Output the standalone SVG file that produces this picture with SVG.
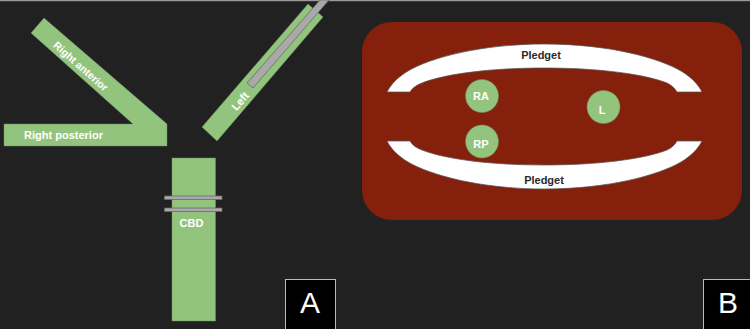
<svg xmlns="http://www.w3.org/2000/svg" width="750" height="329" viewBox="0 0 750 329">
  <style>
    .duct { fill: #93c47d; stroke: #6f8f62; stroke-width: 0.5; }
    .clip { fill: #a9a9a9; stroke: #666; stroke-width: 0.75; }
    .pledget { fill: #fff; stroke: #555; stroke-width: 0.75; }
    .lbl { font-family: "Liberation Sans", Arial, sans-serif; font-weight: 700; font-size: 11px; fill: #fff; text-anchor: middle; }
    .lbl-dark { fill: #2a2a2a; }
    .tag { fill: #000; stroke: #bbb; stroke-width: 1; }
    .tagtext { font-family: "Liberation Sans", Arial, sans-serif; font-size: 30px; fill: #fff; text-anchor: middle; }
  </style>
  <rect width="750" height="329" fill="#212121"/>
  <rect width="750" height="1.2" fill="#9a9a9a"/>

  <g id="right-ducts">
    <polygon class="duct" points="31,33 44,18 167,124 167,146 4,146 4,124 133,124"/>
    <text class="lbl" style="font-size:10.5px" transform="translate(81,66) rotate(41.500)" y="4">Right anterior</text>
    <text class="lbl" x="63.500" y="138.500">Right posterior</text>
  </g>

  <g id="left-duct">
    <polygon class="duct" points="202,127 217,141 323,17 308,4"/>
    <polygon class="clip" points="247,83 253,88 329,0 320,0"/>
    <text class="lbl" transform="translate(240,101) rotate(-49)" y="4">Left</text>
  </g>

  <g id="cbd">
    <rect class="duct" x="172" y="158" width="43.500" height="163"/>
    <rect class="clip" x="164.500" y="196" width="57.500" height="3.500"/>
    <rect class="clip" x="164.500" y="208" width="57.500" height="3.500"/>
    <text class="lbl" x="191.500" y="226.500">CBD</text>
  </g>

  <g id="panel-a">
    <rect class="tag" x="285.500" y="279.500" width="50" height="51"/>
    <text class="tagtext" x="310" y="313">A</text>
  </g>

  <g id="section">
    <rect x="362" y="22" width="380" height="198" rx="30" ry="30" fill="#85200c"/>
  </g>

  <g id="pledget-top">
    <path class="pledget" d="M387,92 C391,84 398,77 408,71 C430,58 480,44 544.500,44 C609,44 659,58 681,71 C691,77 698,84 702,92 L677,92 C674,87 671,85 667,83 C644,74 598,68 544,68 C490,68 445,74 422,83 C417,85 413,87 410,92 Z"/>
    <text class="lbl lbl-dark" x="541" y="58.500">Pledget</text>
  </g>

  <g id="pledget-bottom">
    <path class="pledget" d="M387,141 C391,149 398,156 408,162 C430,175 480,189 544.500,189 C609,189 659,175 681,162 C691,156 698,149 702,141 L677,141 C674,146 671,148 667,150 C644,159 598,165 544,165 C490,165 445,159 422,150 C417,148 413,146 410,141 Z"/>
    <text class="lbl lbl-dark" x="544" y="183.500">Pledget</text>
  </g>

  <g id="node-ra">
    <circle class="duct" cx="482" cy="96" r="16.500"/>
    <text class="lbl" x="481" y="100">RA</text>
  </g>
  <g id="node-rp">
    <circle class="duct" cx="482" cy="141.500" r="16.500"/>
    <text class="lbl" x="481" y="148">RP</text>
  </g>
  <g id="node-l">
    <circle class="duct" cx="603.500" cy="107" r="16.500"/>
    <text class="lbl" x="602" y="114">L</text>
  </g>

  <g id="panel-b">
    <rect class="tag" x="703.500" y="279.500" width="50" height="51"/>
    <text class="tagtext" x="728" y="312.500">B</text>
  </g>
</svg>
